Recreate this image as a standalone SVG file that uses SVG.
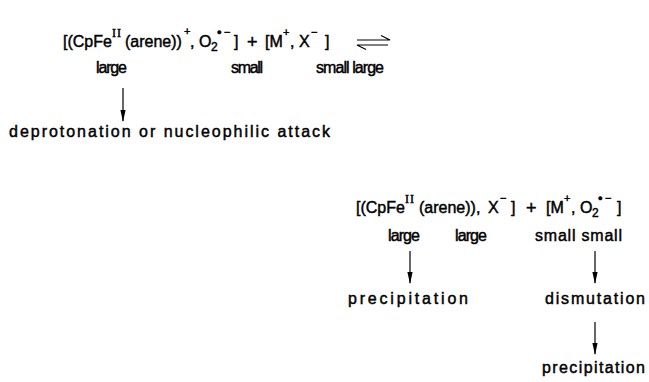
<svg xmlns="http://www.w3.org/2000/svg" width="649" height="382" viewBox="0 0 649 382">
  <style>
    text { font-family: "Liberation Sans", Arial, sans-serif; fill: #000; stroke: #000; stroke-width: 0.45px; }
    .eq { font-size: 16px; }
    .lbl { font-size: 16px; }
    .sup { font-size: 11px; }
    .dot { font-size: 13px; }
    .sub { font-size: 12px; }
    .rom { font-family: "Liberation Serif", "Times New Roman", serif; font-size: 12px; letter-spacing: 1px; }
    .plus { font-size: 18px; }
    .wire { stroke: #000; stroke-width: 1.2; fill: none; }
  </style>
  <defs>
    <!-- slim filled arrowhead for reaction arrows -->
    <marker id="head" viewBox="0 0 12 6" refX="11" refY="3" markerWidth="12" markerHeight="6" markerUnits="userSpaceOnUse" orient="auto">
      <path d="M0,0.4 L12,3 L0,5.6 Z" fill="#000"/>
    </marker>
  </defs>

  <!-- first equilibrium: ion pairs before exchange -->
  <g id="equilibrium-top">
    <text class="eq" x="63" y="47">[(CpFe</text>
    <text class="rom" x="112" y="37">II</text>
    <text class="eq" x="125" y="47">(arene))</text>
    <text class="sup" x="184" y="35">+</text>
    <text class="eq" x="190" y="47">,</text>
    <text class="eq" x="199" y="47">O</text>
    <text class="sub" x="211" y="51">2</text>
    <text class="dot" x="217" y="37">•</text>
    <text class="sup" x="224" y="36">−</text>
    <text class="eq" x="234" y="47">]</text>
    <text class="plus" x="247" y="48">+</text>
    <text class="eq" x="265" y="47">[M</text>
    <text class="sup" x="283" y="36">+</text>
    <text class="eq" x="290" y="47">,</text>
    <text class="eq" x="299" y="47">X</text>
    <text class="sup" x="311" y="36">−</text>
    <text class="eq" x="325" y="47">]</text>
  </g>

  <g id="sizes-top">
    <text class="lbl" x="96" y="73" textLength="31" lengthAdjust="spacing">large</text>
    <text class="lbl" x="231" y="73" textLength="32" lengthAdjust="spacing">small</text>
    <text class="lbl" x="316" y="73" textLength="68" lengthAdjust="spacing">small large</text>
  </g>

  <g id="side-reaction">
    <text class="lbl" x="9" y="137" textLength="321" lengthAdjust="spacing">deprotonation or nucleophilic attack</text>
  </g>

  <!-- second equilibrium: ion pairs after exchange -->
  <g id="equilibrium-bottom">
    <text class="eq" x="356" y="213">[(CpFe</text>
    <text class="rom" x="405" y="203">II</text>
    <text class="eq" x="419" y="213">(arene)),</text>
    <text class="eq" x="488" y="213">X</text>
    <text class="sup" x="500" y="202">−</text>
    <text class="eq" x="511" y="213">]</text>
    <text class="plus" x="526" y="214">+</text>
    <text class="eq" x="546" y="213">[M</text>
    <text class="sup" x="564" y="202">+</text>
    <text class="eq" x="571" y="213">,</text>
    <text class="eq" x="580" y="213">O</text>
    <text class="sub" x="592" y="217">2</text>
    <text class="dot" x="598" y="203">•</text>
    <text class="sup" x="605" y="202">−</text>
    <text class="eq" x="617" y="213">]</text>
  </g>

  <g id="sizes-bottom">
    <text class="lbl" x="388" y="241" textLength="32" lengthAdjust="spacing">large</text>
    <text class="lbl" x="455" y="241" textLength="32" lengthAdjust="spacing">large</text>
    <text class="lbl" x="535" y="241" textLength="87" lengthAdjust="spacing">small small</text>
  </g>

  <g id="precipitation-left">
    <text class="lbl" x="348" y="304" textLength="120" lengthAdjust="spacing">precipitation</text>
  </g>
  <g id="dismutation">
    <text class="lbl" x="545" y="304" textLength="100" lengthAdjust="spacing">dismutation</text>
  </g>
  <g id="precipitation-right">
    <text class="lbl" x="542" y="373" textLength="103" lengthAdjust="spacing">precipitation</text>
  </g>

  <g id="connectors">
    <!-- equilibrium half-arrows -->
    <path class="wire" d="M357,40 H390 L381,35.5"/>
    <path class="wire" d="M388,45 H357 L366,49.5"/>
    <!-- reaction arrows -->
    <line class="wire" x1="123" y1="88" x2="123" y2="121" marker-end="url(#head)"/>
    <line class="wire" x1="410" y1="251" x2="410" y2="283" marker-end="url(#head)"/>
    <line class="wire" x1="595" y1="251" x2="595" y2="283" marker-end="url(#head)"/>
    <line class="wire" x1="595" y1="322" x2="595" y2="354" marker-end="url(#head)"/>
  </g>
</svg>
